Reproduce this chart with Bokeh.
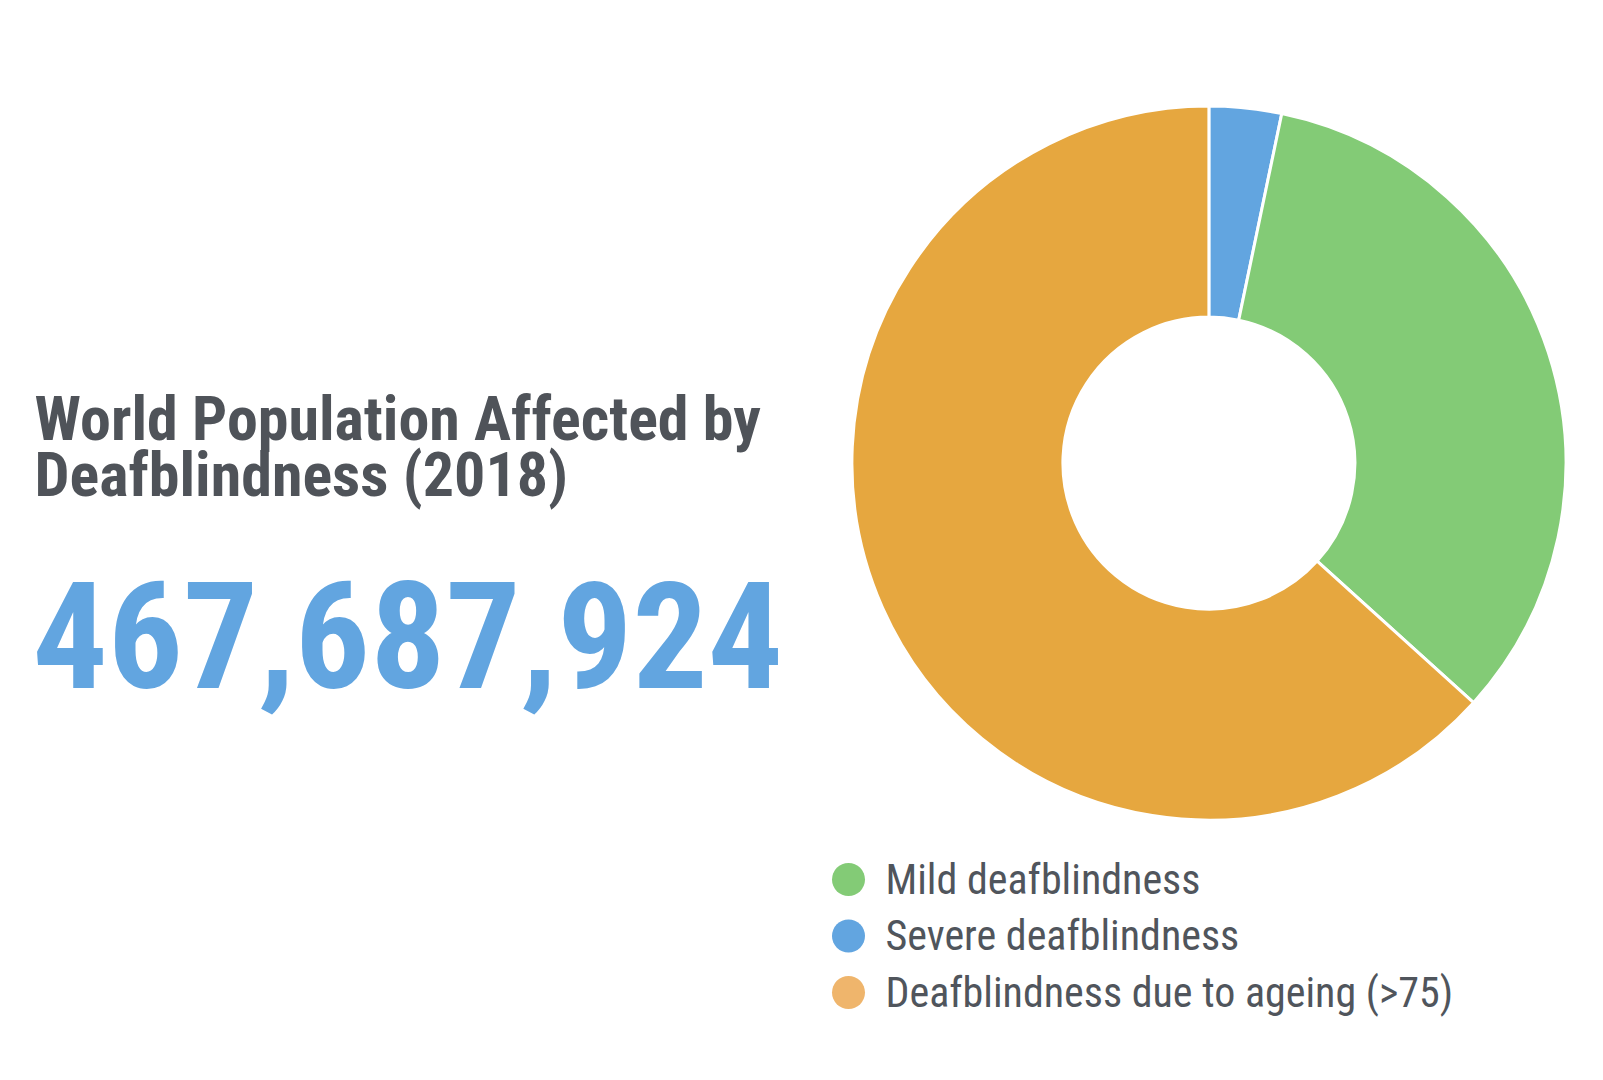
import math
from bokeh.plotting import figure
from bokeh.models import Range1d, ColumnDataSource
from bokeh.core.properties import value
from bokeh.embed import file_html
from bokeh.resources import INLINE

# ---- data ----
categories = ["Mild deafblindness", "Severe deafblindness", "Deafblindness due to ageing (>75)"]
values_m = [156.4, 15.3, 296.0]          # millions
slice_colors = ["#83CB76", "#62A5E0", "#E6A73F"]
legend_colors = ["#83CB76", "#62A5E0", "#EFB56C"]
draw_order = [1, 0, 2]                    # clockwise from 12 o'clock
title_lines = ["World Population Affected by", "Deafblindness (2018)"]
total_people = 467687924

W, H = 1587, 1064
p = figure(width=W, height=H, output_backend="svg", toolbar_location=None,
           x_range=Range1d(0, W), y_range=Range1d(0, H), min_border=0)
p.axis.visible = False
p.grid.visible = False
p.outline_line_color = None
p.background_fill_color = "white"

# ---- donut ----
cx, cy = 1208.4, 601.4
r_out, r_in = 357, 146
tot = sum(values_m)
starts, ends, cols = [], [], []
acc = 0.0
for i in draw_order:
    a0 = math.pi / 2 - 2 * math.pi * acc / tot
    acc += values_m[i]
    a1 = math.pi / 2 - 2 * math.pi * acc / tot
    starts.append(a0)
    ends.append(a1)
    cols.append(slice_colors[i])
src = ColumnDataSource(dict(x=[cx] * len(starts), y=[cy] * len(starts),
                            start=starts, end=ends, color=cols))
p.annular_wedge(x="x", y="y", inner_radius=r_in, outer_radius=r_out,
                start_angle="start", end_angle="end", direction="clock",
                fill_color="color", line_color="white", line_width=3, source=src)

FONT = "Roboto Condensed"
K = 0.375  # baseline compensation (fraction of font size)

# ---- title ----
ts = 62
p.text(x=[34, 34], y=[622.4 + K * ts, 567.1 + K * ts], text=title_lines,
       text_font=value(FONT), text_font_style="bold", text_font_size=f"{ts}px",
       text_color="#4F5359", text_baseline="alphabetic", text_align="left")

# ---- big number ----
ns = 149
p.text(x=[32], y=[374 + K * ns], text=[f"{total_people:,}"],
       text_font=value(FONT), text_font_style="bold", text_font_size=f"{ns}px",
       text_color="#62A5E0", text_baseline="alphabetic", text_align="left")

# ---- legend ----
ls = 42
ly0, step = 185, 56.5
ly = [ly0 - k * step for k in range(len(categories))]
p.scatter(x=[848] * len(categories), y=ly, size=33, marker="circle",
          fill_color=legend_colors, line_color=None)
p.text(x=[885] * len(categories), y=[v - 15.5 + K * ls for v in ly], text=categories,
       text_font=value(FONT), text_font_size=f"{ls}px",
       text_color="#50555C", text_baseline="alphabetic", text_align="left")

open("out.html", "w").write(file_html(p, INLINE))
